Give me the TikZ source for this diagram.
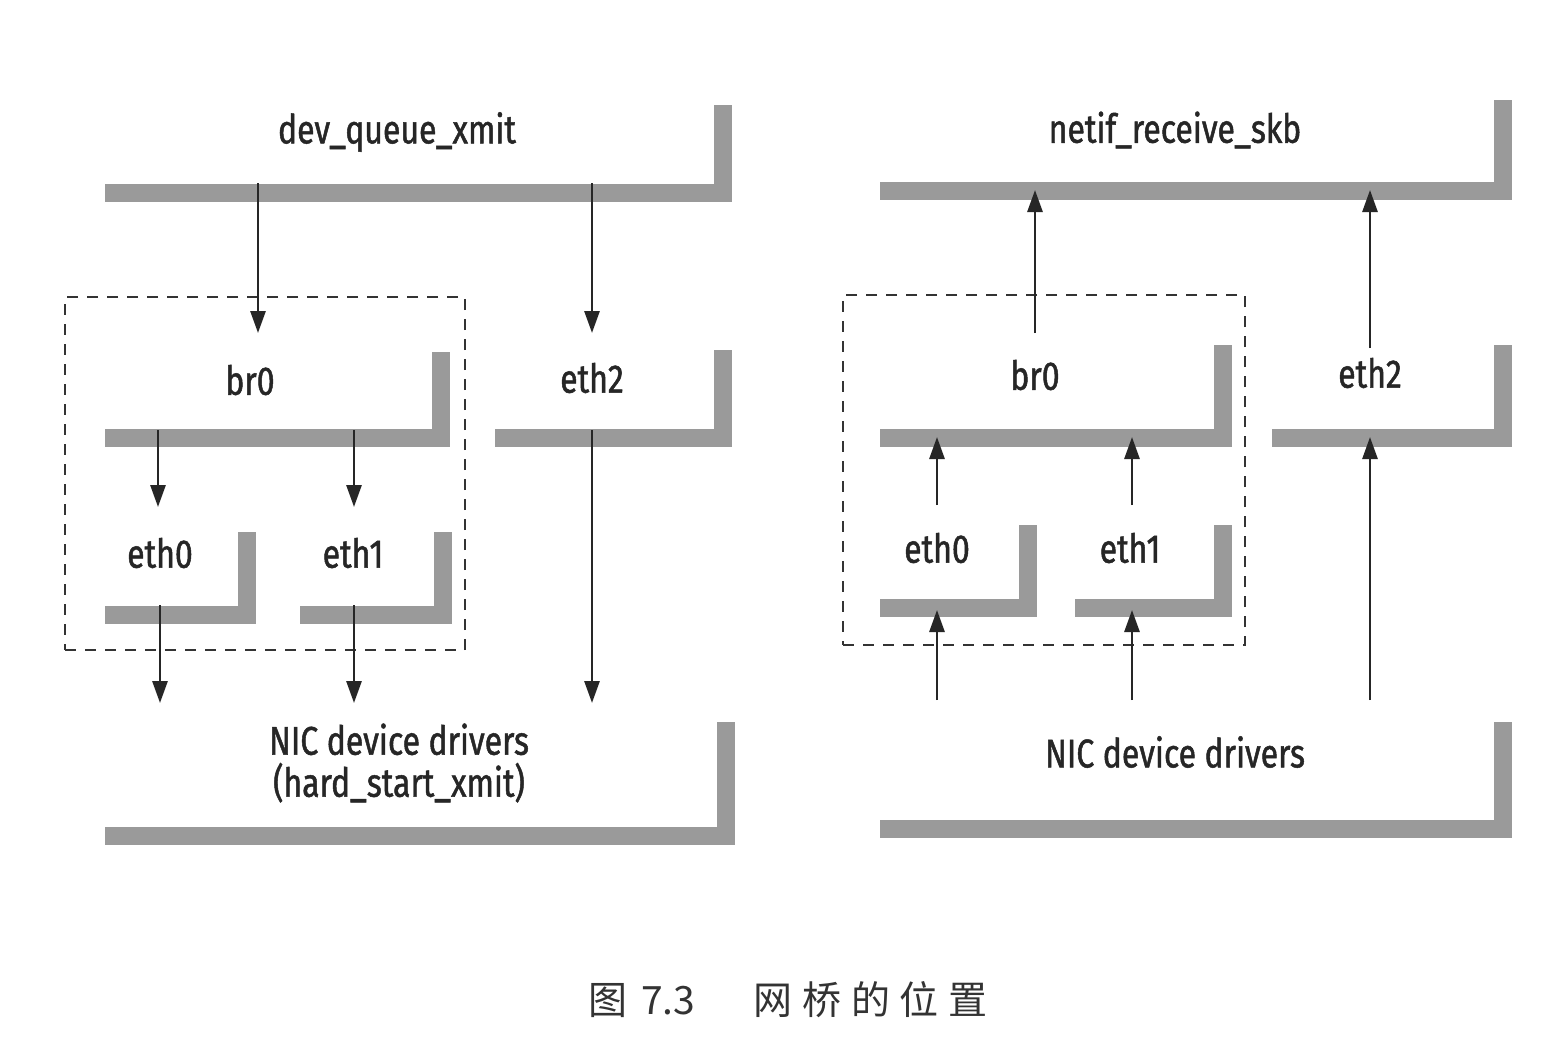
\documentclass[tikz,border=0pt]{standalone}
\usepackage{fontspec}
\usetikzlibrary{arrows.meta,calc}
\newfontfamily\lblfont[FakeStretch=0.8,FakeBold=1.2]{Fira Sans}
\newfontfamily\cjkfont{Noto Sans CJK SC}
\definecolor{bargray}{HTML}{9A9A9A}
\tikzset{
  box/.style={inner sep=0pt, outer sep=0pt, draw=none},
  bar/.style={line width=18pt, draw=bargray},
  arr/.style={line width=2.8pt, draw=black!85, -{Triangle[length=22pt,width=15pt]}},
  lbl/.style={inner sep=0pt, text=black!85, font=\lblfont\fontsize{40}{42}\selectfont, align=center},
  frame/.style={draw=black!80, line width=2.2pt, dash pattern=on 11pt off 9pt, inner sep=0pt, outer sep=0pt},
  captxt/.style={inner sep=0pt, text=black!80, font=\cjkfont\fontsize{39}{42}\selectfont}
}
\newcommand{\Lbar}[1]{\draw[bar] ([yshift=9pt]#1.south west) -| ([xshift=-9pt]#1.north east);}
\begin{document}
\begin{tikzpicture}[x=1pt,y=-1pt]
\useasboundingbox[fill=white] (0,0) rectangle (1554,1044);

% dashed frames
\node[frame, minimum width=400pt, minimum height=353pt] (lframe) at (265,473.5) {};
\node[frame, minimum width=402pt, minimum height=350pt] (rframe) at (1044,470) {};

% ---------- left panel boxes ----------
\node[box, minimum width=627pt, minimum height=97pt] (dqx) at (418.5,153.5) {};
\node[box, minimum width=345pt, minimum height=95pt] (lbr0) at (277.5,399.5) {};
\node[box, minimum width=237pt, minimum height=97pt] (leth2) at (613.5,398.5) {};
\node[box, minimum width=151pt, minimum height=92pt] (leth0) at (180.5,578) {};
\node[box, minimum width=152pt, minimum height=92pt] (leth1) at (376,578) {};
\node[box, minimum width=630pt, minimum height=123pt] (lnic) at (420,783.5) {};
\foreach \n in {dqx,lbr0,leth2,leth0,leth1,lnic} {\Lbar{\n}}

\node[lbl] (tdqx) at (397,132) {dev\_queue\_xmit};
\node[lbl] (tlbr0) at (250,380) {br0};
\node[lbl] (tleth2) at (592,378) {eth2};
\node[lbl] (tleth0) at (160,553) {eth0};
\node[lbl] (tleth1) at (353,553) {eth1};
\node[lbl] (tlnic) at (399,763) {NIC device drivers\\(hard\_start\_xmit)};

% ---------- right panel boxes ----------
\node[box, minimum width=632pt, minimum height=100pt] (netif) at (1196,150) {};
\node[box, minimum width=352pt, minimum height=102pt] (rbr0) at (1056,396) {};
\node[box, minimum width=240pt, minimum height=102pt] (reth2) at (1392,396) {};
\node[box, minimum width=157pt, minimum height=92pt] (reth0) at (958.5,571) {};
\node[box, minimum width=157pt, minimum height=92pt] (reth1) at (1153.5,571) {};
\node[box, minimum width=632pt, minimum height=116pt] (rnic) at (1196,780) {};
\foreach \n in {netif,rbr0,reth2,reth0,reth1,rnic} {\Lbar{\n}}

\node[lbl] (tnetif) at (1175,130) {netif\_receive\_skb};
\node[lbl] (trbr0) at (1035,375) {br0};
\node[lbl] (treth2) at (1370,373) {eth2};
\node[lbl] (treth0) at (937,548) {eth0};
\node[lbl] (treth1) at (1130,548) {eth1};
\node[lbl] (trnic) at (1175,752) {NIC device drivers};

% ---------- left arrows (down) ----------
\draw[arr] ($(dqx.south west)+(153,-19)$) -- ($(lbr0.north west)+(153,-19)$);
\draw[arr] ($(dqx.south west)+(487,-19)$) -- ($(leth2.north west)+(97,-17)$);
\draw[arr] ($(lbr0.south west)+(53,-17)$) -- ($(leth0.north west)+(53,-25)$);
\draw[arr] ($(lbr0.south west)+(249,-17)$) -- ($(leth1.north west)+(54,-25)$);
\draw[arr] ($(leth0.south west)+(55,-19)$) -- ($(lnic.north west)+(55,-19)$);
\draw[arr] ($(leth1.south west)+(54,-19)$) -- ($(lnic.north west)+(249,-19)$);
\draw[arr] ($(leth2.south west)+(97,-17)$) -- ($(lnic.north west)+(487,-19)$);

% ---------- right arrows (up) ----------
\draw[arr] ($(rbr0.north west)+(155,-12)$) -- ($(netif.south west)+(155,-10)$);
\draw[arr] ($(reth2.north west)+(98,3)$) -- ($(netif.south west)+(490,-10)$);
\draw[arr] ($(reth0.north west)+(57,-20)$) -- ($(rbr0.south west)+(57,-10)$);
\draw[arr] ($(reth1.north west)+(57,-20)$) -- ($(rbr0.south west)+(252,-10)$);
\draw[arr] ($(rnic.north west)+(490,-22)$) -- ($(reth2.south west)+(98,-10)$);
\draw[arr] ($(rnic.north west)+(57,-22)$) -- ($(reth0.south west)+(57,-7)$);
\draw[arr] ($(rnic.north west)+(252,-22)$) -- ($(reth1.south west)+(57,-7)$);

% caption
\node[captxt] (caption) at (788,1000) {图\hspace{0.35em}7.3\hspace{1.5em}网\hspace{0.25em}桥\hspace{0.25em}的\hspace{0.25em}位\hspace{0.25em}置};
\end{tikzpicture}
\end{document}
